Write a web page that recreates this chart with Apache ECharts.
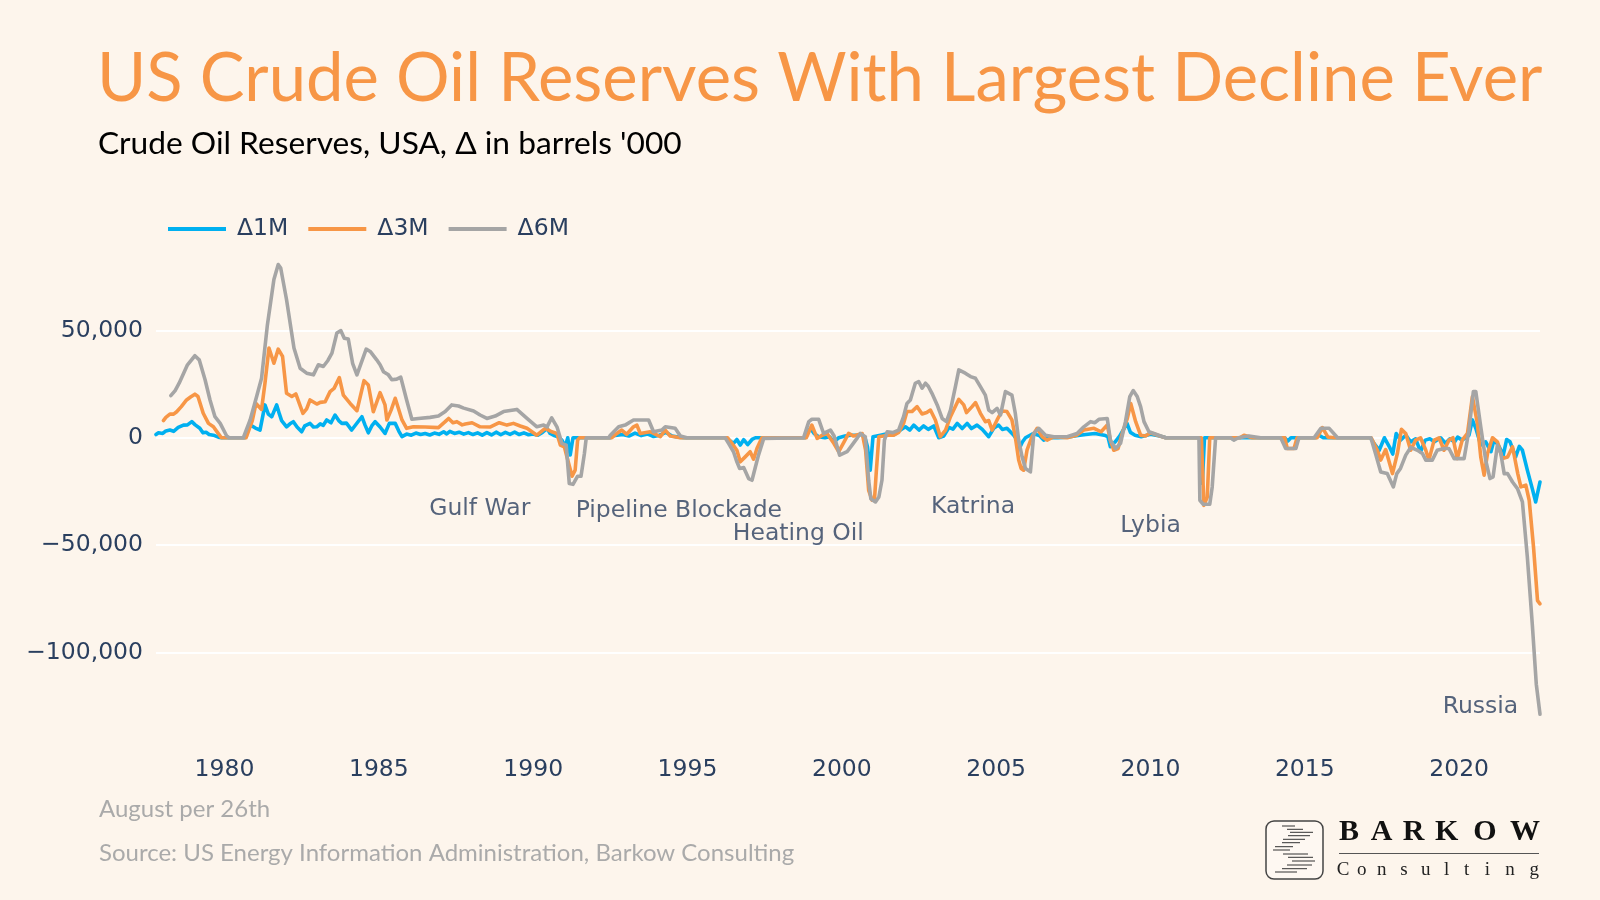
<!DOCTYPE html>
<html><head><meta charset="utf-8">
<script src="https://cdn.jsdelivr.net/npm/echarts@6/dist/echarts.min.js"></script>
<style>html,body{margin:0;padding:0;background:#fdf5ec}#c{width:1600px;height:900px}</style>
</head><body><div id="c"></div>
<script>
// ---------- DATA ----------
const seriesNames = ['Δ1M', 'Δ3M', 'Δ6M'];

// [decimal year, change in barrels '000]
const d1m = [[1977.78,1500],[1977.86,2300],[1978.0,2000],[1978.1,3200],[1978.23,3600],[1978.35,3000],[1978.5,4800],[1978.67,5900],[1978.8,6000],[1978.94,7500],[1979.05,6000],[1979.2,4400],[1979.3,2300],[1979.4,2600],[1979.5,1500],[1979.64,1200],[1979.8,300],[1979.9,0],[1980.66,0],[1980.8,5000],[1980.88,5600],[1981.0,4500],[1981.15,3600],[1981.31,15300],[1981.42,11000],[1981.53,9800],[1981.69,15300],[1981.78,11000],[1981.85,8000],[1982.01,5100],[1982.12,6500],[1982.23,7500],[1982.35,5000],[1982.5,2800],[1982.6,5500],[1982.77,6700],[1982.88,5000],[1982.99,5100],[1983.1,6500],[1983.2,5800],[1983.31,8300],[1983.45,7000],[1983.58,10600],[1983.7,8000],[1983.8,6700],[1983.95,6800],[1984.12,3600],[1984.3,7000],[1984.45,9800],[1984.55,6000],[1984.66,2300],[1984.77,5500],[1984.88,7500],[1985.04,5000],[1985.2,2000],[1985.34,6700],[1985.53,6700],[1985.65,3000],[1985.75,500],[1985.9,1700],[1986.05,1200],[1986.2,2200],[1986.35,1500],[1986.5,2000],[1986.65,1300],[1986.8,2200],[1986.95,1600],[1987.1,2800],[1987.2,1800],[1987.3,3000],[1987.45,2000],[1987.6,2600],[1987.75,1700],[1987.9,2400],[1988.05,1500],[1988.2,2300],[1988.35,1200],[1988.5,2400],[1988.65,1300],[1988.8,2600],[1988.95,1400],[1989.1,2500],[1989.25,1600],[1989.4,2600],[1989.55,1500],[1989.7,2300],[1989.85,1400],[1990.0,1800],[1990.15,1200],[1990.3,2500],[1990.45,4400],[1990.55,2000],[1990.66,1200],[1990.8,500],[1990.93,-1100],[1991.04,-4200],[1991.12,0],[1991.2,-8000],[1991.29,0],[1992.5,0],[1992.6,1000],[1992.9,1500],[1993.1,800],[1993.3,2200],[1993.5,1000],[1993.7,1800],[1993.9,600],[1994.1,1200],[1994.3,2500],[1994.5,800],[1994.7,300],[1994.9,0],[1996.25,0],[1996.35,-1100],[1996.49,-2600],[1996.6,-800],[1996.71,-3400],[1996.82,-900],[1996.95,-3200],[1997.09,-800],[1997.2,0],[1998.8,0],[1998.98,4400],[1999.1,2000],[1999.25,500],[1999.45,0],[1999.6,500],[1999.74,-1900],[1999.9,0],[2000.1,800],[2000.3,1200],[2000.5,1200],[2000.65,1500],[2000.76,-500],[2000.83,-4200],[2000.92,-15100],[2001.01,500],[2001.25,1200],[2001.5,2000],[2001.7,1500],[2001.9,3600],[2002.06,5100],[2002.2,3600],[2002.33,5900],[2002.5,3600],[2002.65,5500],[2002.8,3900],[2002.98,5500],[2003.14,0],[2003.3,800],[2003.47,4800],[2003.6,4000],[2003.74,6700],[2003.9,4300],[2004.06,6700],[2004.2,4300],[2004.38,5900],[2004.55,3900],[2004.76,500],[2004.92,4400],[2005.08,5900],[2005.2,3900],[2005.35,4400],[2005.57,1200],[2005.68,-1100],[2005.75,-5000],[2005.85,-2000],[2005.95,0],[2006.2,2000],[2006.4,1000],[2006.54,-1100],[2006.7,0],[2007.0,0],[2007.3,300],[2007.6,1000],[2007.9,1500],[2008.2,2000],[2008.5,1200],[2008.62,500],[2008.7,-4200],[2008.85,-2000],[2009.0,800],[2009.24,6700],[2009.35,2500],[2009.5,1200],[2009.7,500],[2010.0,1600],[2010.3,800],[2010.5,0],[2011.6,0],[2011.68,-21300],[2011.75,0],[2012.6,0],[2012.7,-800],[2012.8,0],[2014.35,0],[2014.45,-1500],[2014.55,0],[2015.35,0],[2015.46,1200],[2015.6,0],[2017.13,0],[2017.24,-2600],[2017.41,-5800],[2017.58,0],[2017.74,-4200],[2017.85,-7600],[2017.96,2000],[2018.1,-1100],[2018.27,1200],[2018.43,-1900],[2018.59,-500],[2018.75,-6500],[2018.9,-1100],[2019.05,-500],[2019.2,-1900],[2019.4,0],[2019.56,-2600],[2019.7,-500],[2019.85,-2000],[2019.95,300],[2020.1,-1100],[2020.32,1200],[2020.43,8300],[2020.54,4400],[2020.7,-3400],[2020.86,-1900],[2021.03,-6500],[2021.13,-1100],[2021.27,-3400],[2021.43,-8100],[2021.54,-800],[2021.65,-1900],[2021.83,-8900],[2021.95,-4000],[2022.05,-5800],[2022.21,-15100],[2022.37,-23700],[2022.48,-29900],[2022.62,-20600]];

const d3m = [[1978.02,8000],[1978.1,9500],[1978.23,11000],[1978.35,11000],[1978.45,12100],[1978.6,14500],[1978.77,17600],[1978.9,19000],[1979.04,20300],[1979.14,19200],[1979.31,11400],[1979.48,6700],[1979.64,5100],[1979.77,2500],[1979.9,0],[1980.7,0],[1980.9,8000],[1981.02,16000],[1981.2,13200],[1981.31,25400],[1981.44,41800],[1981.6,34700],[1981.74,41300],[1981.88,37900],[1982.01,20700],[1982.18,19200],[1982.31,20400],[1982.54,11400],[1982.66,13500],[1982.77,17600],[1982.99,15700],[1983.1,16500],[1983.26,16800],[1983.42,21500],[1983.55,23000],[1983.72,28000],[1983.85,19900],[1984.07,16000],[1984.29,12600],[1984.52,26600],[1984.66,24600],[1984.82,12100],[1985.04,21000],[1985.2,15300],[1985.26,8300],[1985.4,13000],[1985.53,18400],[1985.75,8300],[1985.9,4400],[1986.12,5100],[1986.5,5000],[1986.93,4700],[1987.15,7500],[1987.26,9000],[1987.4,7000],[1987.53,7500],[1987.7,6000],[1987.8,6400],[1988.02,7000],[1988.28,5100],[1988.6,5000],[1988.9,7000],[1989.15,5900],[1989.36,6700],[1989.58,5500],[1989.8,4400],[1990.12,1200],[1990.39,4400],[1990.6,2800],[1990.77,2000],[1990.88,-3400],[1991.01,-4200],[1991.15,-12000],[1991.26,-17900],[1991.36,-15100],[1991.44,-1100],[1991.5,0],[1992.55,0],[1992.71,2000],[1992.87,3600],[1993.03,1600],[1993.25,5100],[1993.36,5900],[1993.47,2000],[1993.79,2800],[1994.12,500],[1994.28,3600],[1994.44,800],[1994.77,0],[1996.3,0],[1996.44,-2600],[1996.6,-5800],[1996.71,-11200],[1996.87,-8900],[1997.03,-6500],[1997.14,-10000],[1997.25,-5000],[1997.41,0],[1998.85,0],[1999.03,5900],[1999.2,-300],[1999.36,1200],[1999.52,2000],[1999.74,-2600],[1999.9,-6500],[2000.06,-2300],[2000.22,2000],[2000.38,800],[2000.66,2000],[2000.77,-5800],[2000.87,-24500],[2000.98,-29100],[2001.06,-28400],[2001.12,-15100],[2001.2,500],[2001.5,1200],[2001.68,1200],[2001.84,2500],[2002.0,6700],[2002.11,12200],[2002.27,12200],[2002.44,14500],[2002.6,11100],[2002.75,11800],[2002.87,12900],[2003.03,8300],[2003.19,500],[2003.36,3600],[2003.52,9800],[2003.79,17900],[2003.95,15300],[2004.04,11700],[2004.22,14500],[2004.33,16400],[2004.49,11400],[2004.65,7500],[2004.76,8000],[2004.87,3600],[2005.03,8300],[2005.19,12500],[2005.35,12200],[2005.51,8300],[2005.62,500],[2005.73,-10400],[2005.81,-14300],[2005.89,-15100],[2006.0,-5800],[2006.16,500],[2006.33,4400],[2006.49,500],[2006.65,-1100],[2006.87,500],[2007.3,0],[2007.6,1200],[2007.84,3600],[2008.17,4400],[2008.4,2800],[2008.6,5900],[2008.7,-1100],[2008.81,-5800],[2008.95,-5000],[2009.1,2800],[2009.25,9000],[2009.36,16000],[2009.52,7500],[2009.68,1200],[2009.84,800],[2010.0,2300],[2010.3,800],[2010.49,0],[2011.65,0],[2011.73,-31500],[2011.84,-27600],[2011.92,0],[2012.9,0],[2013.03,1200],[2013.3,0],[2014.35,0],[2014.43,-5000],[2014.65,-5000],[2014.75,0],[2015.4,0],[2015.57,4700],[2015.75,300],[2015.95,0],[2017.15,0],[2017.35,-5800],[2017.46,-10400],[2017.62,-5500],[2017.84,-16700],[2018.0,-7300],[2018.13,3900],[2018.27,2000],[2018.43,-5800],[2018.59,-1100],[2018.75,0],[2018.92,-5800],[2019.02,-10400],[2019.19,-1100],[2019.35,0],[2019.51,-5800],[2019.67,-1100],[2019.8,0],[2019.94,-9700],[2020.1,-1100],[2020.27,2000],[2020.43,19200],[2020.59,6700],[2020.7,-8900],[2020.81,-17400],[2020.92,-7300],[2021.08,0],[2021.24,-1900],[2021.4,-9700],[2021.57,-9000],[2021.73,-4200],[2021.9,-16700],[2022.0,-22900],[2022.16,-22100],[2022.27,-29100],[2022.41,-50900],[2022.54,-75900],[2022.62,-77400]];

const d6m = [[1978.26,19600],[1978.4,22000],[1978.53,25400],[1978.8,34000],[1979.04,38200],[1979.18,36300],[1979.37,27000],[1979.53,17600],[1979.69,9800],[1979.86,6700],[1980.07,800],[1980.15,0],[1980.61,0],[1980.83,8300],[1981.04,19200],[1981.2,27700],[1981.39,52700],[1981.6,73700],[1981.74,80700],[1981.82,79100],[1982.01,64300],[1982.25,41800],[1982.45,32400],[1982.66,30100],[1982.88,29300],[1983.04,34000],[1983.2,33200],[1983.35,36000],[1983.48,39400],[1983.64,48800],[1983.77,49900],[1983.88,46400],[1984.01,46000],[1984.15,34700],[1984.29,29300],[1984.59,41300],[1984.72,40200],[1984.93,36300],[1985.04,34000],[1985.15,30800],[1985.31,29300],[1985.42,27000],[1985.58,27300],[1985.71,28200],[1985.9,17600],[1986.07,8600],[1986.28,9000],[1986.66,9500],[1986.93,10100],[1987.15,12200],[1987.36,15300],[1987.58,14800],[1987.75,13800],[1988.07,12500],[1988.28,10600],[1988.5,9000],[1988.77,10100],[1989.04,12200],[1989.47,13200],[1989.8,9000],[1990.12,5100],[1990.34,5900],[1990.45,5100],[1990.6,9300],[1990.77,5100],[1990.93,-2600],[1991.07,-3400],[1991.17,-21300],[1991.29,-21700],[1991.44,-17900],[1991.55,-17900],[1991.66,-7300],[1991.72,0],[1992.45,0],[1992.5,1200],[1992.77,5100],[1992.98,5900],[1993.25,8300],[1993.74,8300],[1993.9,2800],[1994.17,3600],[1994.28,5100],[1994.6,4400],[1994.77,800],[1994.98,0],[1996.22,0],[1996.33,-2600],[1996.49,-6500],[1996.6,-11200],[1996.69,-14300],[1996.82,-13900],[1996.98,-19000],[1997.09,-19800],[1997.2,-13600],[1997.3,-8100],[1997.47,-300],[1998.76,0],[1998.93,7500],[1999.03,8600],[1999.25,8600],[1999.41,2000],[1999.63,3600],[1999.75,800],[1999.93,-8100],[2000.17,-6500],[2000.33,-3400],[2000.49,-300],[2000.6,2000],[2000.76,500],[2000.87,-19800],[2000.94,-28400],[2001.09,-29900],[2001.2,-27600],[2001.3,-19800],[2001.38,-1100],[2001.47,2800],[2001.65,2400],[2001.84,3600],[2002.0,9800],[2002.11,16000],[2002.22,17600],[2002.38,25400],[2002.49,26200],[2002.6,23100],[2002.71,25400],[2002.8,24000],[2002.92,20700],[2003.09,15300],[2003.25,9000],[2003.39,7500],[2003.52,12900],[2003.68,23800],[2003.79,31600],[2004.0,30100],[2004.17,28500],[2004.33,27700],[2004.49,23800],[2004.65,19900],[2004.76,12900],[2004.87,11700],[2005.03,13700],[2005.14,10600],[2005.3,21500],[2005.51,19900],[2005.62,11400],[2005.73,-1100],[2005.84,-8900],[2005.95,-14300],[2006.11,-15900],[2006.22,2000],[2006.38,4400],[2006.6,1200],[2006.87,500],[2007.3,500],[2007.62,2000],[2007.84,5100],[2008.06,7500],[2008.2,7000],[2008.33,8600],[2008.6,9000],[2008.7,-1100],[2008.87,-5000],[2009.03,-2600],[2009.19,7500],[2009.33,19200],[2009.44,22000],[2009.57,19200],[2009.68,14500],[2009.79,7500],[2009.95,2800],[2010.11,2000],[2010.33,800],[2010.49,0],[2011.57,0],[2011.6,-29100],[2011.71,-31000],[2011.92,-31000],[2012.0,-22900],[2012.11,0],[2012.6,0],[2012.7,-1100],[2012.85,0],[2013.19,800],[2013.57,0],[2014.22,0],[2014.38,-5000],[2014.71,-5000],[2014.81,0],[2015.3,0],[2015.52,4400],[2015.79,4400],[2016.06,0],[2017.14,0],[2017.29,-7300],[2017.46,-15900],[2017.67,-16700],[2017.87,-22900],[2017.98,-16700],[2018.1,-14300],[2018.27,-8100],[2018.43,-4500],[2018.65,-5800],[2018.81,-7300],[2018.92,-10400],[2019.13,-10400],[2019.29,-5800],[2019.51,-5000],[2019.67,-5000],[2019.84,-9700],[2020.16,-9700],[2020.32,3600],[2020.46,21500],[2020.54,21500],[2020.7,5100],[2020.86,-10400],[2021.0,-19000],[2021.1,-18200],[2021.24,-3400],[2021.35,-7300],[2021.46,-16700],[2021.57,-16700],[2021.73,-20600],[2021.89,-23700],[2022.05,-29900],[2022.21,-55600],[2022.37,-86800],[2022.5,-114800],[2022.62,-128800]];

const annotText = ['Gulf War', 'Pipeline Blockade', 'Heating Oil', 'Katrina', 'Lybia', 'Russia'];
const annotX = [1988.27, 1994.72, 1998.59, 2004.25, 2010.0, 2020.69];
const annotY = [-33300, -34200, -44900, -32400, -41000, -125500];

const titleText = 'US Crude Oil Reserves With Largest Decline Ever';
const subtitleText = "Crude Oil Reserves, USA, \u0394 in barrels '000";
const noteText = 'August per 26th';
const sourceText = 'Source: US Energy Information Administration, Barkow Consulting';
const logoWord = ['B','A','R','K','O','W'];
const logoSub = ['C','o','n','s','u','l','t','i','n','g'];

// ---------- STYLE ----------
const BG = '#fdf5ec';
const COLORS = ['#00b0f0', '#f79646', '#a5a5a5'];
const AXIS_TXT = '#2a3f5f';
const TICK_FONT = 'DejaVu Sans';
const HEAD_FONT = 'Lato';

const fmtNum = v => (v < 0 ? '\u2212' : '') + Math.abs(v).toLocaleString('en-US');

const chart = echarts.init(document.getElementById('c'), null, {renderer: 'canvas', width: 1600, height: 900});

// logo graphics
const logoEls = [];
const letterX = [1349, 1381.7, 1413.5, 1446.7, 1485, 1525];
logoWord.forEach((ch, i) => logoEls.push({type: 'text', x: letterX[i], y: 832, style: {text: ch, fontFamily: 'Liberation Serif', fontWeight: 'bold', fontSize: 30, fill: '#111', textAlign: 'center', textVerticalAlign: 'middle'}}));
const subX = [1343, 1361.7, 1381.7, 1404, 1425.7, 1446.7, 1466.7, 1487.3, 1510, 1534.3];
logoSub.forEach((ch, i) => logoEls.push({type: 'text', x: subX[i], y: 870, style: {text: ch, fontFamily: 'Liberation Serif', fontSize: 19, fill: '#222', textAlign: 'center', textVerticalAlign: 'middle'}}));
logoEls.push({type: 'line', shape: {x1: 1339, y1: 853.5, x2: 1539, y2: 853.5}, style: {stroke: '#555', lineWidth: 1}});
logoEls.push({type: 'rect', shape: {x: 1266, y: 821, width: 57, height: 58, r: 8}, style: {fill: 'rgba(255,255,255,0.35)', stroke: '#444', lineWidth: 1.5}});
const iconLines = [[826,1282,1295],[829.3,1287,1303],[832.3,1290,1313],[835.7,1288,1310],[839.3,1283,1305],[842.7,1282,1300],[846.7,1275,1293],[850,1273,1290],[854,1283,1308],[857.3,1288,1313],[861,1292,1315],[865,1287,1312],[868.7,1282,1307],[872,1275,1297]];
iconLines.forEach(l => logoEls.push({type: 'line', shape: {x1: l[1], y1: l[0], x2: l[2], y2: l[0]}, style: {stroke: '#333', lineWidth: 1}}));

const lineSeries = [d1m, d3m, d6m].map((d, i) => ({
  name: seriesNames[i], type: 'line', data: d, showSymbol: false, symbol: 'none',
  lineStyle: {width: 3.6, color: COLORS[i], join: 'round', cap: 'round'},
  itemStyle: {color: COLORS[i]}, z: 2 + i, silent: true
}));

const option = {
  backgroundColor: BG,
  animation: false,
  grid: {left: 156, right: 60, top: 251, height: 480},
  legend: {
    data: seriesNames, left: 163, top: 212, icon: 'rect', itemWidth: 58, itemHeight: 4, itemGap: 20,
    selectedMode: false,
    textStyle: {fontFamily: TICK_FONT, fontSize: 23.5, color: AXIS_TXT, padding: [0, 0, 0, 6]}
  },
  xAxis: {
    type: 'value', min: 1977.78, max: 2022.62, splitNumber: 9, minInterval: 5, maxInterval: 5,
    axisLine: {show: false}, axisTick: {show: false}, splitLine: {show: false},
    axisLabel: {fontFamily: TICK_FONT, fontSize: 23.5, color: AXIS_TXT, margin: 27, showMinLabel: false, showMaxLabel: false,
      formatter: v => (Math.abs(v % 5) < 1e-6 ? String(Math.round(v)) : '')}
  },
  yAxis: {
    type: 'value', min: -136600, max: 87000, splitNumber: 5, minInterval: 50000, maxInterval: 50000,
    axisLine: {show: false}, axisTick: {show: false},
    splitLine: {show: true, showMinLine: false, showMaxLine: false, lineStyle: {color: '#ffffff', width: 2}},
    axisLabel: {fontFamily: TICK_FONT, fontSize: 23.5, color: AXIS_TXT, margin: 13, showMinLabel: false, showMaxLabel: false,
      formatter: v => (Math.abs(v % 50000) < 1e-6 ? fmtNum(v) : '')}
  },
  series: lineSeries.concat([{
    type: 'scatter', silent: true, z: 10,
    data: annotX.map((x, i) => [x, annotY[i], annotText[i]]),
    symbolSize: 1, itemStyle: {color: 'rgba(0,0,0,0)'},
    label: {show: true, position: 'inside', formatter: p => p.value[2], fontFamily: TICK_FONT, fontSize: 23.5, color: AXIS_TXT}
  }]),
  graphic: [
    {type: 'text', x: 97, y: 79, style: {text: titleText, fontFamily: HEAD_FONT, fontSize: 67, fill: '#f79646', textAlign: 'left', textVerticalAlign: 'middle'}},
    {type: 'text', x: 98, y: 144, style: {text: subtitleText, fontFamily: HEAD_FONT, fontSize: 31.7, fill: '#000', textAlign: 'left', textVerticalAlign: 'middle'}},
    {type: 'text', x: 99, y: 809, style: {text: noteText, fontFamily: HEAD_FONT, fontSize: 24, fill: '#aaaaaa', textAlign: 'left', textVerticalAlign: 'middle'}},
    {type: 'text', x: 99, y: 853, style: {text: sourceText, fontFamily: HEAD_FONT, fontSize: 24, fill: '#aaaaaa', textAlign: 'left', textVerticalAlign: 'middle'}}
  ].concat(logoEls)
};
chart.setOption(option);
</script></body></html>
